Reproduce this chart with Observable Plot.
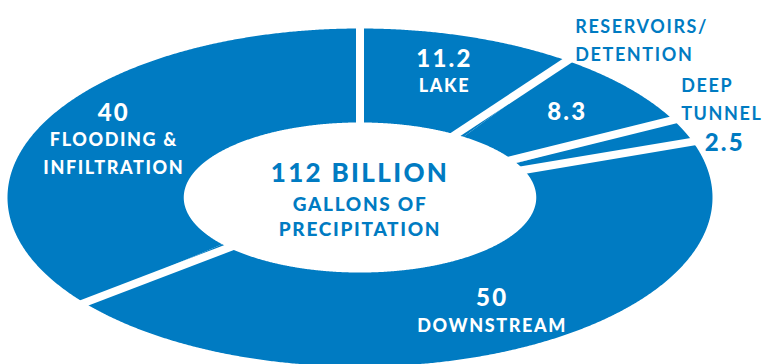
<!DOCTYPE html>
<html><head><meta charset="utf-8">
<script src="https://cdn.jsdelivr.net/npm/d3@7"></script>
<script src="https://cdn.jsdelivr.net/npm/@observablehq/plot@0.6"></script>
<style>
html,body{margin:0;padding:0;background:#fff;overflow:hidden;}
#chart svg text{letter-spacing:0.09em;}
</style></head><body><div id="chart"></div>
<script>
// ---- data ----
const categories = ["LAKE", "RESERVOIRS/\nDETENTION", "DEEP\nTUNNEL", "DOWNSTREAM", "FLOODING &\nINFILTRATION"];
const values = [11.2, 8.3, 2.5, 50, 40];
const valueLabels = ["11.2", "8.3", "2.5", "50", "40"];
const centerUnit = "BILLION";
const centerLines = ["GALLONS OF", "PRECIPITATION"];

// ---- layout / style ----
const BLUE = "#007bc2";
const FONT = "Lato, 'Open Sans', sans-serif";
const KX = 0.5, KY = 0.444;   // hole size relative to outer ellipse
const LR = 0.775;             // radius of labels inside the ring
const LINE = 27.5;            // line spacing of the labels inside the ring

const total = d3.sum(values);
let acc = 0;
const slices = values.map((v, i) => {
  const a0 = acc / total * 2 * Math.PI; acc += v;
  const a1 = acc / total * 2 * Math.PI;
  return {name: categories[i], value: v, label: valueLabels[i], share: v / total, a0, a1, mid: (a0 + a1) / 2};
});

const ringPts = [];
for (const s of slices) {
  const n = Math.max(8, Math.ceil((s.a1 - s.a0) / 0.005));
  for (let k = 0; k <= n; k++) { const t = s.a0 + (s.a1 - s.a0) * k / n; ringPts.push({key: s.name, x: Math.sin(t), y: Math.cos(t)}); }
  for (let k = n; k >= 0; k--) { const t = s.a0 + (s.a1 - s.a0) * k / n; ringPts.push({key: s.name, x: KX * Math.sin(t), y: KY * Math.cos(t)}); }
}

const marks = [
  Plot.line(ringPts, {x: "x", y: "y", z: "key", fill: BLUE, stroke: "none", curve: "linear"}),
  Plot.link(slices, {
    x1: d => 0.3 * Math.sin(d.a0), y1: d => 0.3 * Math.cos(d.a0),
    x2: d => 1.05 * Math.sin(d.a0), y2: d => 1.05 * Math.cos(d.a0),
    stroke: "white", strokeWidth: 8, strokeLinecap: "butt"
  })
];

const txt = (data, opts) => Plot.text(data, {fontFamily: FONT, fontWeight: 900, lineAnchor: "middle", ...opts});

for (const s of slices) {
  const nameLines = s.name.split("\n");
  if (s.share >= 0.08) {
    const lines = [{t: s.label, big: true}, ...nameLines.map(t => ({t, big: false}))];
    lines.forEach((ln, i) => marks.push(txt([s], {
      x: d => LR * Math.sin(d.mid), y: d => LR * Math.cos(d.mid), text: () => ln.t,
      dy: (i - (lines.length - 1) / 2) * LINE, fill: "white", fontSize: ln.big ? 24 : 18
    })));
  } else {
    if (s.share >= 0.05) {
      marks.push(txt([s], {x: d => LR * Math.sin(d.mid), y: d => LR * Math.cos(d.mid), text: d => d.label, fill: "white", fontSize: 24}));
    } else {
      marks.push(txt([s], {x: d => Math.sin(d.a1), y: d => Math.cos(d.a1), text: d => d.label, fill: BLUE, fontSize: 24,
        textAnchor: "start", dx: 12, dy: 2}));
    }
    const m = nameLines.length;
    nameLines.forEach((t, j) => marks.push(txt([s], {
      x: d => Math.sin(d.a0), y: d => Math.cos(d.a0), text: () => t,
      fill: BLUE, fontSize: 18, fontWeight: 700, textAnchor: "start", lineAnchor: "bottom",
      dx: 8, dy: -(m - 1 - j) * 28
    })));
  }
}

marks.push(txt([total], {x: () => 0, y: () => 0, text: d => `${Math.round(d)} ${centerUnit}`, fill: BLUE, fontSize: 26, dy: -24}));
centerLines.forEach((t, i) => marks.push(txt([total], {x: () => 0, y: () => 0, text: () => t, fill: BLUE, fontSize: 19, dy: 7 + i * 25})));

const chart = Plot.plot({
  width: 763, height: 364,
  margin: 0,
  style: {fontFamily: FONT, background: "white"},
  x: {domain: [-1, 1], range: [7, 712], axis: null},
  y: {domain: [-1, 1], range: [366, 28], axis: null},
  marks
});
chart.querySelectorAll('g[font-weight="700"]').forEach(g => g.style.letterSpacing = "0.05em");
document.getElementById("chart").appendChild(chart);
</script></body></html>
